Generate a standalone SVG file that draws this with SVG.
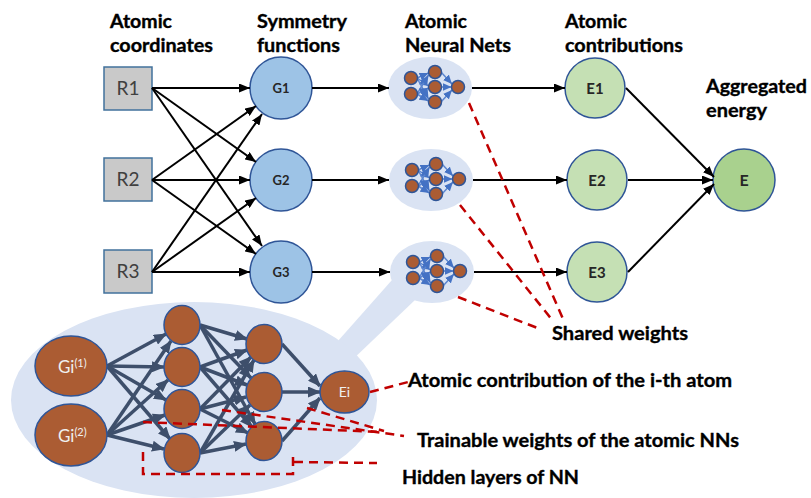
<svg xmlns="http://www.w3.org/2000/svg" xmlns:xlink="http://www.w3.org/1999/xlink" width="811" height="498" viewBox="0 0 811 498">
  <style>
    .hdr { font-family: Lato, "Liberation Sans", sans-serif; font-weight: bold; font-size: 18px; fill: #000; stroke: #000; stroke-width: 0.35; }
    .lbl { font-family: Lato, "Liberation Sans", sans-serif; font-weight: bold; font-size: 19px; fill: #000; stroke: #000; stroke-width: 0.35; }
    .box { fill: #c9c9c9; stroke: #41719c; stroke-width: 1.5; }
    .boxtxt { font-family: Lato, "Liberation Sans", sans-serif; font-size: 19px; fill: #404040; text-anchor: middle; }
    .gnode { fill: #9dc3e6; stroke: #2f5597; stroke-width: 1.5; }
    .enode { fill: #c5e0b4; stroke: #2f5597; stroke-width: 1.5; }
    .etot { fill: #a9d18e; stroke: #2f5597; stroke-width: 1.5; }
    .ntxt { font-family: Lato, "Liberation Sans", sans-serif; font-weight: bold; fill: #262626; text-anchor: middle; }
    .net { fill: #dae3f3; }
    .neuron { fill: #ab5c33; stroke: #2f5597; stroke-width: 1.5; }
    .wtxt { font-family: Lato, "Liberation Sans", sans-serif; fill: #f0f0f0; }
    .flow { stroke: #000; stroke-width: 2; fill: none; marker-end: url(#headBlack); }
    .syn { stroke: #3e4f6b; stroke-width: 3.5; fill: none; marker-end: url(#headSlate); }
    .mini { stroke: #5b85cf; stroke-width: 1.5; fill: none; marker-end: url(#headBlue); }
    .dash { stroke: #c00000; stroke-width: 2.5; fill: none; stroke-dasharray: 9 6; }
  </style>
  <defs>
    <marker id="headBlack" markerUnits="userSpaceOnUse" markerWidth="11" markerHeight="9" refX="11" refY="4.5" orient="auto">
      <path d="M0,0 L11,4.5 L0,9 z" fill="#000"/>
    </marker>
    <marker id="headSlate" markerUnits="userSpaceOnUse" markerWidth="13" markerHeight="11" refX="12" refY="5.5" orient="auto">
      <path d="M0,0 L13,5.5 L0,11 z" fill="#3e4f6b"/>
    </marker>
    <marker id="headBlue" markerUnits="userSpaceOnUse" markerWidth="9" markerHeight="8" refX="9" refY="4" orient="auto">
      <path d="M0,0 L9,4 L0,8 z" fill="#4472c4"/>
    </marker>
    <!-- miniature atomic network, drawn around its own centre -->
    <g id="miniNet">
      <ellipse class="net" cx="0" cy="0" rx="42" ry="31"/>
      <line class="mini" x1="-13" y1="-10" x2="-1.5" y2="-15"/>
      <line class="mini" x1="-13" y1="-10" x2="-1.5" y2="-2"/>
      <line class="mini" x1="-13" y1="-10" x2="-1.5" y2="11"/>
      <line class="mini" x1="-13" y1="6" x2="-1.5" y2="-13"/>
      <line class="mini" x1="-13" y1="6" x2="-1.5" y2="0"/>
      <line class="mini" x1="-13" y1="6" x2="-1.5" y2="13"/>
      <line class="mini" x1="11" y1="-16" x2="22" y2="-4"/>
      <line class="mini" x1="11" y1="-1" x2="21.5" y2="-1"/>
      <line class="mini" x1="11" y1="14" x2="22" y2="2"/>
      <circle class="neuron" cx="-19" cy="-10" r="6.5"/>
      <circle class="neuron" cx="-19" cy="6" r="6.5"/>
      <circle class="neuron" cx="5" cy="-16" r="6.5"/>
      <circle class="neuron" cx="5" cy="-1" r="6.5"/>
      <circle class="neuron" cx="5" cy="14" r="6.5"/>
      <circle class="neuron" cx="28" cy="-1" r="6.5"/>
    </g>
  </defs>

  <rect width="811" height="498" fill="#fff"/>

  <!-- column headings -->
  <g id="headings">
    <text class="hdr" x="110" y="28" textLength="62" lengthAdjust="spacingAndGlyphs">Atomic</text>
    <text class="hdr" x="110" y="52" textLength="103" lengthAdjust="spacingAndGlyphs">coordinates</text>
    <text class="hdr" x="257" y="28" textLength="90" lengthAdjust="spacingAndGlyphs">Symmetry</text>
    <text class="hdr" x="257" y="52" textLength="83" lengthAdjust="spacingAndGlyphs">functions</text>
    <text class="hdr" x="405" y="28" textLength="62" lengthAdjust="spacingAndGlyphs">Atomic</text>
    <text class="hdr" x="405" y="52" textLength="106" lengthAdjust="spacingAndGlyphs">Neural Nets</text>
    <text class="hdr" x="565" y="28" textLength="62" lengthAdjust="spacingAndGlyphs">Atomic</text>
    <text class="hdr" x="565" y="52" textLength="118" lengthAdjust="spacingAndGlyphs">contributions</text>
    <text class="hdr" x="706" y="93" textLength="101" lengthAdjust="spacingAndGlyphs">Aggregated</text>
    <text class="hdr" x="706" y="117" textLength="61" lengthAdjust="spacingAndGlyphs">energy</text>
  </g>

  <!-- enlarged view of one atomic network, with its callout band -->
  <g id="zoomNet">
    <polygon class="net" points="330,350 350,362 415,300 392,280"/>
    <ellipse class="net" cx="194" cy="400" rx="183" ry="98"/>
  </g>

  <!-- input coordinates -->
  <g id="R1"><rect class="box" x="104" y="67" width="48" height="43"/><text class="boxtxt" x="128" y="95">R1</text></g>
  <g id="R2"><rect class="box" x="104" y="158" width="48" height="43"/><text class="boxtxt" x="128" y="186">R2</text></g>
  <g id="R3"><rect class="box" x="104" y="250" width="48" height="43"/><text class="boxtxt" x="128" y="278">R3</text></g>

  <!-- symmetry functions -->
  <g id="G1"><circle class="gnode" cx="281" cy="88" r="31"/><text class="ntxt" x="281" y="93" font-size="13">G1</text></g>
  <g id="G2"><circle class="gnode" cx="281" cy="180" r="31"/><text class="ntxt" x="281" y="185" font-size="13">G2</text></g>
  <g id="G3"><circle class="gnode" cx="281" cy="272" r="31"/><text class="ntxt" x="281" y="277" font-size="13">G3</text></g>

  <!-- atomic neural nets -->
  <g id="NN1"><use xlink:href="#miniNet" transform="translate(430,88)"/></g>
  <g id="NN2"><use xlink:href="#miniNet" transform="translate(431,180)"/></g>
  <g id="NN3"><use xlink:href="#miniNet" transform="translate(432,272)"/></g>

  <!-- atomic contributions -->
  <g id="E1"><circle class="enode" cx="595" cy="88" r="30"/><text class="ntxt" x="595" y="94" font-size="15">E1</text></g>
  <g id="E2"><circle class="enode" cx="597" cy="180" r="30"/><text class="ntxt" x="597" y="186" font-size="15">E2</text></g>
  <g id="E3"><circle class="enode" cx="597" cy="272" r="30"/><text class="ntxt" x="597" y="278" font-size="15">E3</text></g>

  <!-- aggregated energy -->
  <g id="E"><circle class="etot" cx="744" cy="180" r="31"/><text class="ntxt" x="744" y="186" font-size="16">E</text></g>

  <!-- main pipeline connectors -->
  <g id="connectors">
    <line class="flow" x1="152" y1="88" x2="250" y2="88"/>
    <line class="flow" x1="152" y1="88" x2="256" y2="162"/>
    <line class="flow" x1="152" y1="88" x2="262" y2="246"/>
    <line class="flow" x1="152" y1="180" x2="256" y2="106"/>
    <line class="flow" x1="152" y1="180" x2="250" y2="180"/>
    <line class="flow" x1="152" y1="180" x2="256" y2="254"/>
    <line class="flow" x1="152" y1="272" x2="262" y2="114"/>
    <line class="flow" x1="152" y1="272" x2="256" y2="198"/>
    <line class="flow" x1="152" y1="272" x2="250" y2="272"/>

    <line class="flow" x1="312" y1="88" x2="389" y2="88"/>
    <line class="flow" x1="312" y1="180" x2="389" y2="180"/>
    <line class="flow" x1="312" y1="272" x2="390" y2="272"/>

    <line class="flow" x1="472" y1="88" x2="565" y2="88"/>
    <line class="flow" x1="473" y1="180" x2="567" y2="180"/>
    <line class="flow" x1="474" y1="272" x2="567" y2="272"/>

    <line class="flow" x1="626" y1="88" x2="714" y2="177"/>
    <line class="flow" x1="628" y1="180" x2="713" y2="180"/>
    <line class="flow" x1="628" y1="272" x2="714" y2="184"/>
  </g>

  <!-- synapses of the enlarged network -->
  <g id="synapses">
    <line class="syn" x1="107" y1="366" x2="166" y2="334"/>
    <line class="syn" x1="107" y1="366" x2="164" y2="367"/>
    <line class="syn" x1="107" y1="366" x2="166" y2="400"/>
    <line class="syn" x1="107" y1="366" x2="170" y2="439"/>
    <line class="syn" x1="107" y1="435" x2="171" y2="341"/>
    <line class="syn" x1="107" y1="435" x2="168" y2="380"/>
    <line class="syn" x1="107" y1="435" x2="165" y2="415"/>
    <line class="syn" x1="107" y1="435" x2="164" y2="449"/>

    <line class="syn" x1="200" y1="325" x2="247" y2="339"/>
    <line class="syn" x1="200" y1="325" x2="251" y2="378"/>
    <line class="syn" x1="200" y1="325" x2="255" y2="424"/>
    <line class="syn" x1="200" y1="367" x2="247" y2="350"/>
    <line class="syn" x1="200" y1="367" x2="247" y2="385"/>
    <line class="syn" x1="200" y1="367" x2="252" y2="427"/>
    <line class="syn" x1="200" y1="409" x2="251" y2="357"/>
    <line class="syn" x1="200" y1="409" x2="246" y2="397"/>
    <line class="syn" x1="200" y1="409" x2="248" y2="433"/>
    <line class="syn" x1="200" y1="453" x2="254" y2="360"/>
    <line class="syn" x1="200" y1="453" x2="250" y2="405"/>
    <line class="syn" x1="200" y1="453" x2="246" y2="444"/>

    <line class="syn" x1="282" y1="344" x2="320" y2="386"/>
    <line class="syn" x1="282" y1="392" x2="320" y2="392"/>
    <line class="syn" x1="282" y1="441" x2="320" y2="398"/>
  </g>

  <!-- neurons of the enlarged network -->
  <g id="Gi1"><ellipse class="neuron" cx="71" cy="366" rx="36" ry="30"/>
    <text class="wtxt" x="58" y="373" font-size="17">Gi<tspan font-size="11" dy="-6">(1)</tspan></text></g>
  <g id="Gi2"><ellipse class="neuron" cx="71" cy="435" rx="36" ry="31"/>
    <text class="wtxt" x="58" y="442" font-size="17">Gi<tspan font-size="11" dy="-6">(2)</tspan></text></g>
  <g id="H1a"><ellipse class="neuron" cx="182" cy="325" rx="18" ry="19.5"/></g>
  <g id="H1b"><ellipse class="neuron" cx="182" cy="367" rx="18" ry="19.5"/></g>
  <g id="H1c"><ellipse class="neuron" cx="182" cy="409" rx="18" ry="19.5"/></g>
  <g id="H1d"><ellipse class="neuron" cx="182" cy="453" rx="18" ry="19.5"/></g>
  <g id="H2a"><ellipse class="neuron" cx="264" cy="344" rx="18" ry="19.5"/></g>
  <g id="H2b"><ellipse class="neuron" cx="264" cy="392" rx="18" ry="19.5"/></g>
  <g id="H2c"><ellipse class="neuron" cx="264" cy="441" rx="18" ry="19.5"/></g>
  <g id="Ei"><ellipse class="neuron" cx="344.5" cy="392" rx="24.5" ry="21"/>
    <text class="wtxt" x="344.5" y="397" font-size="14" text-anchor="middle">Ei</text></g>

  <!-- annotation leaders -->
  <g id="leaders">
    <line class="dash" x1="469" y1="103" x2="563" y2="319"/>
    <line class="dash" x1="460" y1="205" x2="553" y2="321"/>
    <line class="dash" x1="458" y1="297" x2="540" y2="329"/>

    <line class="dash" x1="370" y1="392" x2="412" y2="381"/>

    <line class="dash" x1="143" y1="422" x2="382" y2="432"/>
    <line class="dash" x1="222" y1="410" x2="404" y2="436"/>
    <line class="dash" x1="307" y1="408" x2="384" y2="431"/>

    <polyline class="dash" points="143,452 143,474 293,474 293,452"/>
    <line class="dash" x1="294" y1="462" x2="377" y2="463"/>
  </g>

  <!-- annotation texts -->
  <g id="notes">
    <text class="lbl" x="552" y="340" textLength="136" lengthAdjust="spacingAndGlyphs">Shared weights</text>
    <text class="lbl" x="408" y="387" textLength="324" lengthAdjust="spacingAndGlyphs">Atomic contribution of the i-th atom</text>
    <text class="lbl" x="417" y="447" textLength="322" lengthAdjust="spacingAndGlyphs">Trainable weights of the atomic NNs</text>
    <text class="lbl" x="402" y="484" textLength="177" lengthAdjust="spacingAndGlyphs">Hidden layers of NN</text>
  </g>
</svg>
